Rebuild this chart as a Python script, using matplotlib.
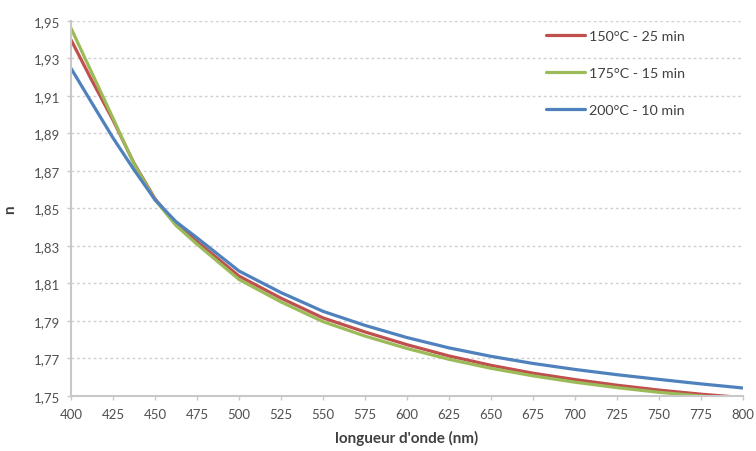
import matplotlib
matplotlib.use("Agg")
import matplotlib.pyplot as plt

# Data
wavelength = [400, 412.5, 425, 437.5, 450, 462.5, 475, 500, 525, 550, 575, 600,
              625, 650, 675, 700, 725, 750, 775, 800]
n_150_25 = [1.9398, 1.9180, 1.8970, 1.8740, 1.8550, 1.8415, 1.8322, 1.8138, 1.8020,
            1.7915, 1.7840, 1.7772, 1.7712, 1.7662, 1.7620, 1.7586, 1.7556,
            1.7530, 1.7508, 1.7490]
n_175_15 = [1.9460, 1.9220, 1.8980, 1.8735, 1.8545, 1.8408, 1.8308, 1.8120, 1.8000,
            1.7895, 1.7818, 1.7752, 1.7694, 1.7646, 1.7606, 1.7572, 1.7543,
            1.7518, 1.7498, 1.7482]
n_200_10 = [1.9246, 1.9060, 1.8875, 1.8705, 1.8545, 1.8428, 1.8342, 1.8165, 1.8050,
            1.7950, 1.7875, 1.7810, 1.7755, 1.7710, 1.7672, 1.7640, 1.7612,
            1.7587, 1.7563, 1.7541]
series_labels = ["150°C - 25 min", "175°C - 15 min", "200°C - 10 min"]
x_ticks = [400, 425, 450, 475, 500, 525, 550, 575, 600, 625, 650, 675, 700,
           725, 750, 775, 800]
y_ticks = [1.75, 1.77, 1.79, 1.81, 1.83, 1.85, 1.87, 1.89, 1.91, 1.93, 1.95]
y_tick_labels = ["1,75", "1,77", "1,79", "1,81", "1,83", "1,85", "1,87", "1,89",
                 "1,91", "1,93", "1,95"]

plt.rcParams['font.family'] = ['Lato', 'DejaVu Sans']

W, H = 756, 452
fig = plt.figure(figsize=(W / 100, H / 100), dpi=100)
ax = fig.add_axes([71 / W, 1 - 396.7 / H, (743 - 71) / W, (396.7 - 21.7) / H])

colors = ["#C0504D", "#9BBB59", "#4F81BD"]
for ys, c, lab in zip([n_150_25, n_175_15, n_200_10], colors, series_labels):
    ax.plot(wavelength, ys, color=c, lw=2.3, label=lab,
            solid_capstyle='round', solid_joinstyle='round')

ax.set_xlim(400, 800)
ax.set_ylim(1.75, 1.95)
ax.set_xticks(x_ticks)
ax.set_xticklabels([str(v) for v in x_ticks])
ax.set_yticks(y_ticks)
ax.set_yticklabels(y_tick_labels)

ax.grid(axis='y', color='#d0d0d0', linestyle=(0, (2, 2)), lw=1.0)
ax.set_axisbelow(True)
for s in ['top', 'right']:
    ax.spines[s].set_visible(False)
for s in ['left', 'bottom']:
    ax.spines[s].set_color('#c8c8c8')
    ax.spines[s].set_linewidth(1.5)

ax.tick_params(axis='both', colors='#c8c8c8', length=3, width=1.0,
               labelcolor='#505050', labelsize=9.5, direction='out')
ax.tick_params(axis='x', pad=6)
ax.tick_params(axis='y', pad=5)

ax.set_xlabel("longueur d'onde (nm)", fontsize=11, fontweight='bold',
              color='#404040', labelpad=7)
ax.set_ylabel("n", fontsize=11, fontweight='bold', color='#404040')
ax.yaxis.set_label_coords((17 - 71) / 672, 0.5)

leg = fig.legend(loc='upper left', bbox_to_anchor=(546 / W, 1 - 31 / H),
                 frameon=False, fontsize=10.3, handlelength=2.75,
                 handletextpad=0.25, labelspacing=1.75, borderpad=0,
                 borderaxespad=0, labelcolor='#404040')

fig.savefig("out.png", dpi=100)
